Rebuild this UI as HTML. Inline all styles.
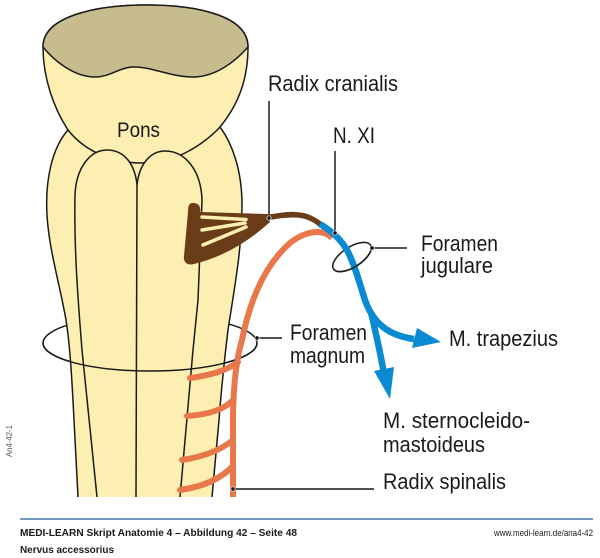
<!DOCTYPE html>
<html><head><meta charset="utf-8"><style>
html,body{margin:0;padding:0;background:#fff;}
svg{display:block;}
text{font-family:"Liberation Sans",Arial,sans-serif;fill:#1a1a1a;}
</style></head><body>
<svg width="600" height="558" viewBox="0 0 600 558" xmlns="http://www.w3.org/2000/svg">
<!-- foramen magnum back -->
<ellipse cx="150" cy="343" rx="107" ry="28" fill="none" stroke="#1a1a1a" stroke-width="1.5"/>
<!-- medulla body -->
<path d="M68,130 C52,148 45,180 47,215 C49,250 60,285 66,320 C70,345 72,380 74,420 L78,497 L212,497 L219,420 C222,380 225,355 228,330 C234,290 242,250 242,205 C242,170 232,143 220,127 Z" fill="#fdefb2"/>
<path d="M68,130 C52,148 45,180 47,215 C49,250 60,285 66,320 C70,345 72,380 74,420 L78,497" fill="none" stroke="#1a1a1a" stroke-width="1.5"/>
<path d="M212,497 L219,420 C222,380 225,355 228,330 C234,290 242,250 242,205 C242,170 232,143 220,127" fill="none" stroke="#1a1a1a" stroke-width="1.5"/>
<!-- pons -->
<path d="M43,47 C43,15 100,5 146,5 C195,5 248,15 248,47 C248,80 238,105 220,127 Q205,143 185,153 Q165,163 140,163 Q120,163 97,153 Q80,145 68,130 C55,110 43,80 43,47 Z" fill="#fdefb2" stroke="#1a1a1a" stroke-width="1.5"/>
<path d="M43,47 C43,15 100,5 146,5 C195,5 248,15 248,47 C235,62 215,77 193,77 C170,77 150,66 132,67 C118,68 110,77 95,77 C75,77 55,62 43,47 Z" fill="#c7bc8e" stroke="#1a1a1a" stroke-width="1.5"/>
<!-- pyramids -->
<path d="M97,497 L82,350 C78,300 74,250 75,195 C76,168 90,150 107,150 C125,150 135,165 137,185 C139,165 150,151 165,151 C185,151 201,170 202,200 L198,300 L193,350 L180,497 Z" fill="#fdefb2"/>
<path d="M97,497 L82,350 C78,300 74,250 75,195 C76,168 90,150 107,150 C125,150 135,165 137,185 C139,165 150,151 165,151 C185,151 201,170 202,200 L198,300 L193,350 L180,497" fill="none" stroke="#1a1a1a" stroke-width="1.5"/>
<path d="M137,185 L136,497" fill="none" stroke="#1a1a1a" stroke-width="1.5"/>
<!-- foramen magnum front -->
<path d="M43,343 A107,28 0 0 0 257,343" fill="none" stroke="#1a1a1a" stroke-width="1.5"/>
<!-- orange radix spinalis -->
<g fill="none" stroke="#e8784a" stroke-width="6" stroke-linecap="round">
<path d="M233,497 L233,420 C233,390 236,360 242,340 C250,300 265,265 290,243 C300,235 310,232 318,232 C324,232 328,234 332,238" stroke-linecap="butt"/>
<path d="M190,378 Q222,374 238,362"/>
<path d="M187,416 Q220,414 233,400"/>
<path d="M182,460 Q215,455 233,440"/>
<path d="M180,490 Q215,485 233,466"/>
</g>
<!-- brown radix cranialis -->
<path d="M193,203 C199,203 201,207 200,212 L268,214 L270,222 Q235,254 194,264 C187,266 183,262 184,256 L188,212 C188,206 189,203 193,203 Z" fill="#6b3c18"/>
<g stroke="#fdefb2" stroke-width="3.5" fill="none" stroke-linecap="round">
<path d="M202,217 L246,219.5"/>
<path d="M202,230 L245,223"/>
<path d="M203,245 L246,227"/>
</g>
<path d="M266,218 C285,214 300,213 310,218 C315,220 318,222 322,226" fill="none" stroke="#6b3c18" stroke-width="5.5"/>
<!-- foramen jugulare back -->
<ellipse cx="352" cy="257" rx="22" ry="10" transform="rotate(-33 352 257)" fill="none" stroke="#1a1a1a" stroke-width="1.5"/>
<!-- blue -->
<g fill="none" stroke="#0a8ad2" stroke-width="6.5">
<path d="M320,224 C330,230 340,238 347,250 C355,265 360,285 365,300 C370,315 380,328 395,334 C402,337 407,338 414,339"/>
<path d="M371,312 C375,330 380,350 384,374"/>
</g>
<polygon points="441,342 412,348 417,328" fill="#0a8ad2"/>
<polygon points="390,399 374,371 394,367" fill="#0a8ad2"/>
<!-- foramen jugulare front -->
<path d="M-22,0 A22,10 0 0 0 22,0" transform="translate(352 257) rotate(-33)" fill="none" stroke="#1a1a1a" stroke-width="1.5"/>
<!-- leaders -->
<g stroke="#1a1a1a" stroke-width="1.5" fill="none">
<path d="M269,101 L269,218"/>
<path d="M335,151 L335,233"/>
<path d="M372,248 L407,248"/>
<path d="M257,338 L282,338"/>
<path d="M233,489 L374,489"/>
</g>
<g fill="#1a1a1a" stroke="#fff" stroke-width="0.7">
<circle cx="269" cy="218" r="2.2"/>
<circle cx="335" cy="233" r="2.2"/>
<circle cx="372" cy="248" r="2.2"/>
<circle cx="257" cy="338" r="2.2"/>
<circle cx="233" cy="489" r="2.2"/>
</g>
<!-- labels -->
<g font-size="22">
<text x="117" y="137" textLength="43" lengthAdjust="spacingAndGlyphs" font-size="21">Pons</text>
<text x="268" y="91" textLength="130" lengthAdjust="spacingAndGlyphs">Radix cranialis</text>
<text x="333" y="143" textLength="42" lengthAdjust="spacingAndGlyphs">N. XI</text>
<text x="421" y="251" textLength="77" lengthAdjust="spacingAndGlyphs">Foramen</text>
<text x="421" y="273" textLength="72" lengthAdjust="spacingAndGlyphs">jugulare</text>
<text x="290" y="340" textLength="77" lengthAdjust="spacingAndGlyphs">Foramen</text>
<text x="290" y="363" textLength="75" lengthAdjust="spacingAndGlyphs">magnum</text>
<text x="449" y="346" textLength="109" lengthAdjust="spacingAndGlyphs">M. trapezius</text>
<text x="383" y="428" textLength="147" lengthAdjust="spacingAndGlyphs">M. sternocleido-</text>
<text x="383" y="452" textLength="102" lengthAdjust="spacingAndGlyphs">mastoideus</text>
<text x="383" y="489" textLength="123" lengthAdjust="spacingAndGlyphs">Radix spinalis</text>
</g>
<text x="0" y="0" font-size="8" transform="translate(12 457) rotate(-90)" textLength="32" lengthAdjust="spacingAndGlyphs" style="fill:#555">An4-42-1</text>
<!-- footer -->
<line x1="20" y1="519" x2="593" y2="519" stroke="#4a78b0" stroke-width="1.5"/>
<text x="20" y="536" font-size="10" font-weight="bold" textLength="277" lengthAdjust="spacingAndGlyphs">MEDI-LEARN Skript Anatomie 4 – Abbildung 42 – Seite 48</text>
<text x="20" y="553" font-size="10" font-weight="bold" textLength="94" lengthAdjust="spacingAndGlyphs">Nervus accessorius</text>
<text x="494" y="536" font-size="9" textLength="99" lengthAdjust="spacingAndGlyphs">www.medi-learn.de/ana4-42</text>
</svg>
</body></html>
